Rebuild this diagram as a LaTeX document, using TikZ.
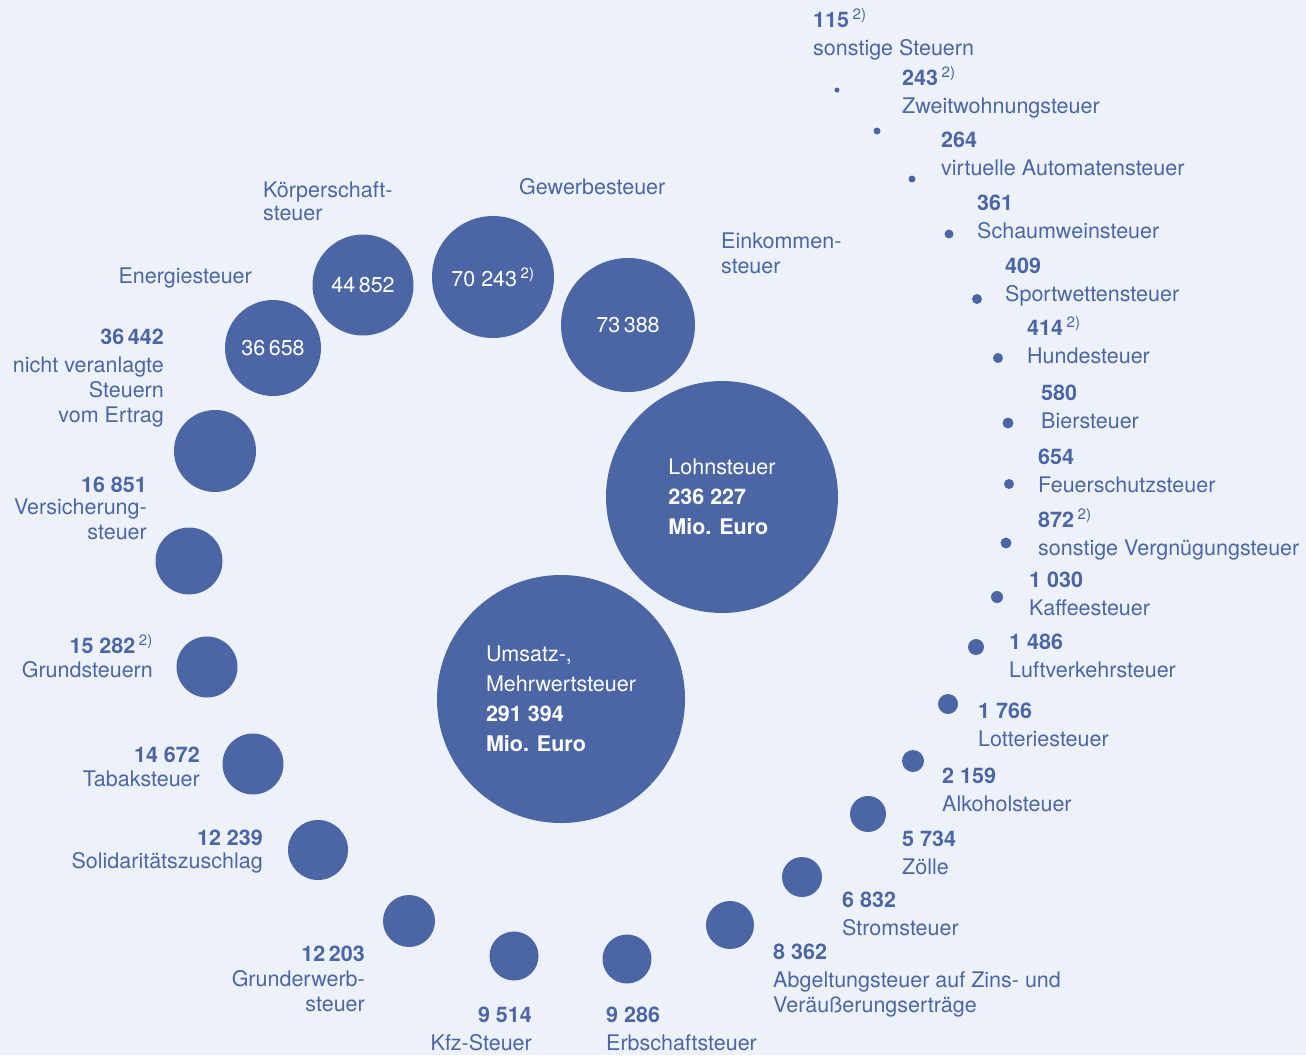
\documentclass[tikz,border=0pt]{standalone}
\usepackage{fontspec}
\setmainfont{TeX Gyre Heros}
\usepackage{tikz}
\definecolor{taxblue}{HTML}{4C66A5}
\definecolor{paper}{HTML}{EDF2FA}
\newcommand\ftn{\,\textsuperscript{\mdseries 2)}}
\tikzset{bub/.style={circle,fill=taxblue,text=white,inner sep=0pt,minimum size=#1pt},
 big/.style={align=left,font=\fontsize{21.5}{30}\selectfont},
 lab/.style={text=taxblue,inner sep=0pt,align=left,anchor=base west},
 labr/.style={text=taxblue,inner sep=0pt,align=right,anchor=base east}}

\begin{document}
\begin{tikzpicture}[x=1pt,y=-1pt,font=\fontsize{21.5}{25}\selectfont]
\fill[paper](0,0)rectangle(1306,1055);\useasboundingbox(0,0)rectangle(1306,1055);
% big ones (labels sit on the baseline of their last line)
\node[bub=232,big](lohn)at(722,497){Lohnsteuer\\\textbf{236 227}\\\textbf{Mio. Euro}};
\node[bub=248,big](ums)at(561,699){Umsatz-,\\Mehrwertsteuer\\\textbf{291 394}\\\textbf{Mio. Euro}};
\node[bub=134](eink)at(628,325){73\,388};\node[lab](eink-l)at(721,273){Einkommen-\\steuer};
\node[bub=122](gew)at(493,277){70 243\ftn};\node[lab](gew-l)at(519,194){Gewerbesteuer};
\node[bub=101](koerp)at(363,285){44\,852};\node[lab](koerp-l)at(263,220){Körperschaft-\\[-2pt]steuer};
\node[bub=96](energ)at(273,348){36\,658};\node[labr](energ-l)at(252,283){Energiesteuer};
% left side
\node[bub=82](nveranl)at(215,451){};\node[labr](nveranl-l)at(164,422){\textbf{36\,442}\\[3pt]nicht veranlagte\\Steuern\\vom Ertrag};
\node[bub=67](vers)at(189,561){};\node[labr](vers-l)at(147,539){\textbf{16 851}\\[-3pt]Versicherung-\\steuer};
\node[bub=61](grund)at(207,667){};\node[labr](grund-l)at(153,677){\textbf{15 282}\ftn\\[-1pt]Grundsteuern};
\node[bub=61](tabak)at(253,764){};\node[labr](tabak-l)at(200,786){\textbf{14 672}\\[-1pt]Tabaksteuer};
\node[bub=60](soli)at(318,850){};\node[labr](soli-l)at(263,868){\textbf{12 239}\\[-2pt]Solidaritätszuschlag};
\node[bub=52](grunderw)at(409,921){};\node[labr](grunderw-l)at(365,1011){\textbf{12\,203}\\Grunderwerb-\\steuer};
\node[bub=49](kfz)at(514,956){};\node[labr](kfz-l)at(532,1050){\textbf{9 514}\\[3pt]Kfz-Steuer};
% right side
\node[bub=49](erb)at(627,959){};\node[lab](erb-l)at(606,1050){\textbf{9 286}\\[3pt]Erbschaftsteuer};
\node[bub=48](abg)at(730,925){};\node[lab](abg-l)at(773,1012){\textbf{8 362}\\[3pt]Abgeltungsteuer auf Zins- und\\Veräußerungserträge};
\node[bub=40](strom)at(802,877){};\node[lab](strom-l)at(842,935){\textbf{6 832}\\[3pt]Stromsteuer};
\node[bub=36](zoelle)at(868,814){};\node[lab](zoelle-l)at(902,874){\textbf{5 734}\\[3pt]Zölle};
\node[bub=22](alk)at(913,761){};\node[lab](alk-l)at(942,811){\textbf{2 159}\\[3pt]Alkoholsteuer};
\node[bub=20](lott)at(948,704){};\node[lab](lott-l)at(978,746){\textbf{1 766}\\[3pt]Lotteriesteuer};
\node[bub=16](luft)at(976,647){};\node[lab](luft-l)at(1009,677){\textbf{1 486}\\[3pt]Luftverkehrsteuer};
\node[bub=12](kaffee)at(997,597){};\node[lab](kaffee-l)at(1029,615){\textbf{1 030}\\[3pt]Kaffeesteuer};
\node[bub=11](vergn)at(1006,543){};\node[lab](vergn-l)at(1038,555){\textbf{872}\ftn\\[3pt]sonstige Vergnügungsteuer};
\node[bub=10](feuer)at(1009,484){};\node[lab](feuer-l)at(1038,492){\textbf{654}\\[3pt]Feuerschutzsteuer};
\node[bub=11](bier)at(1008,423){};\node[lab](bier-l)at(1041,428){\textbf{580}\\[3pt]Biersteuer};
\node[bub=10](hunde)at(998,358){};\node[lab](hunde-l)at(1027,363){\textbf{414}\ftn\\[3pt]Hundesteuer};
\node[bub=10](sport)at(977,299){};\node[lab](sport-l)at(1005,301){\textbf{409}\\[3pt]Sportwettensteuer};
\node[bub=9](schaum)at(949,234){};\node[lab](schaum-l)at(977,238){\textbf{361}\\[3pt]Schaumweinsteuer};
\node[bub=7](virt)at(912,179){};\node[lab](virt-l)at(941,175){\textbf{264}\\[3pt]virtuelle Automatensteuer};
\node[bub=7](zweit)at(877,131){};\node[lab](zweit-l)at(902,113){\textbf{243}\ftn\\[3pt]Zweitwohnungsteuer};
\node[bub=5](sonst)at(837,90){};\node[lab](sonst-l)at(813,55){\textbf{115}\ftn\\[3pt]sonstige Steuern};
\end{tikzpicture}
\end{document}
